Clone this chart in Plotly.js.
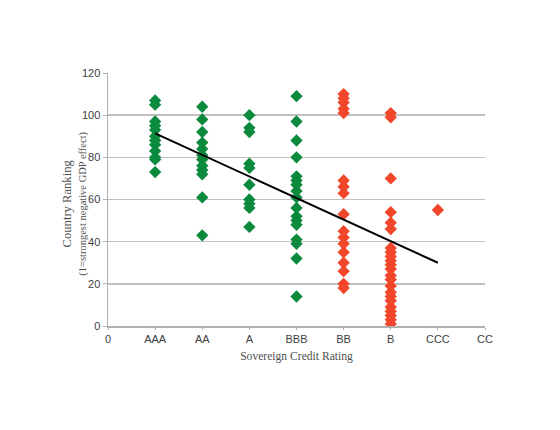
<!DOCTYPE html>
<html>
<head>
<meta charset="utf-8">
<script src="https://cdn.plot.ly/plotly-3.0.1.min.js"></script>
<style>html,body{margin:0;padding:0;background:#fff;}#chart{width:560px;height:430px;}</style>
</head>
<body>
<div id="chart"></div>
<script>
// Tick labels for the rating axis (position = index)
const ratingLabels = ['0', 'AAA', 'AA', 'A', 'BBB', 'BB', 'B', 'CCC', 'CC'];

// Country rankings per sovereign rating
const rankAAA = [107, 105, 97, 95, 93, 90, 88, 86, 83, 80, 79, 73];
const rankAA  = [104, 98, 92, 87, 84, 81, 79, 76, 74, 72, 61, 43];
const rankA   = [100, 94, 92, 77, 75, 67, 60, 58, 56, 47];
const rankBBB = [109, 97, 88, 80, 71, 69, 67, 64, 61, 56, 52, 50, 48, 41, 39, 32, 14];
const rankBB  = [110, 108, 106, 103, 101, 69, 66, 63, 53, 45, 42, 39, 35, 30, 26, 20, 18];
const rankB   = [101, 99, 70, 54, 49, 46, 37, 35, 33, 31, 29, 27, 24, 22, 19, 16, 14, 12, 9, 7, 5, 3, 1];
const rankCCC = [55];

// Trend line end points (rating position, ranking)
const trendX = [1, 7];
const trendY = [91.4, 30.0];

function build(groups) {
  const xs = [], ys = [];
  groups.forEach(([pos, arr]) => arr.forEach(v => { xs.push(pos); ys.push(v); }));
  return {x: xs, y: ys};
}
const green = build([[1, rankAAA], [2, rankAA], [3, rankA], [4, rankBBB]]);
const red = build([[5, rankBB], [6, rankB], [7, rankCCC]]);

const traces = [
  {x: green.x, y: green.y, type: 'scatter', mode: 'markers',
   marker: {symbol: 'diamond', size: 9.5, color: '#0b8a3e'}, hoverinfo: 'none'},
  {x: red.x, y: red.y, type: 'scatter', mode: 'markers',
   marker: {symbol: 'diamond', size: 9.5, color: '#f2462a'}, hoverinfo: 'none'},
  {x: trendX, y: trendY, type: 'scatter', mode: 'lines',
   line: {color: '#000', width: 2}, hoverinfo: 'none'}
];

const serif = 'Liberation Serif, Times New Roman, serif';

const layout = {
  width: 560, height: 430,
  margin: {l: 108, r: 75, t: 73, b: 104},
  paper_bgcolor: '#fff', plot_bgcolor: '#fff',
  showlegend: false,
  font: {family: 'Liberation Sans, Arial, sans-serif', size: 11, color: '#404040'},
  xaxis: {
    range: [0, 8], tickvals: ratingLabels.map((_, i) => i), ticktext: ratingLabels,
    showgrid: false, zeroline: false, showline: true, linecolor: '#b0b0b0', linewidth: 1.5,
    ticks: 'outside', ticklen: 2, tickcolor: '#b0b0b0',
    tickfont: {size: 11, color: '#404040'},
    title: {text: 'Sovereign Credit Rating', standoff: 8,
            font: {family: serif, size: 11.6, color: '#505050'}}
  },
  yaxis: {
    range: [0, 120], dtick: 20, tick0: 0,
    showgrid: true, gridcolor: '#c0c0c0', gridwidth: 1.5,
    zeroline: false, showline: true, linecolor: '#b0b0b0', linewidth: 1.5,
    ticks: 'outside', ticklen: 4, tickcolor: '#b0b0b0',
    tickfont: {size: 11, color: '#404040'}
  },
  annotations: [{
    xref: 'paper', yref: 'paper', x: -0.089, y: 0.485,
    xanchor: 'center', yanchor: 'middle', textangle: -90, showarrow: false,
    text: '<span style="font-size:12.6px">Country Ranking</span><br><span style="font-size:10.5px">(1=strongest negative GDP effect)</span>',
    font: {family: serif, size: 11.5, color: '#505050'}
  }]
};

Plotly.newPlot('chart', traces, layout, {staticPlot: true, displayModeBar: false});
</script>
</body>
</html>
